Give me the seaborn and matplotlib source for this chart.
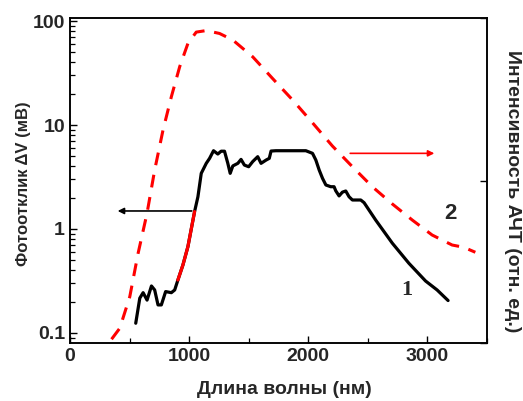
import matplotlib
matplotlib.use("Agg")
import matplotlib.pyplot as plt
from matplotlib.ticker import FixedLocator, NullFormatter
import seaborn as sns
import numpy as np
import pandas as pd

# Curve 1: photoresponse (mV)
x1 = [552, 586, 614, 647, 684, 711, 739, 767, 803, 851, 879, 906, 948, 990, 1027, 1046,
      1074, 1102, 1144, 1172, 1205, 1241, 1269, 1297, 1325, 1345, 1367, 1409, 1436, 1464,
      1500, 1534, 1576, 1604, 1646, 1673, 1688, 1729, 1980, 2036, 2064, 2092, 2120, 2148,
      2189, 2217, 2231, 2259, 2287, 2315, 2343, 2371, 2399, 2441, 2469, 2566, 2706, 2845,
      2985, 3082, 3174]
y1 = [0.124, 0.216, 0.244, 0.207, 0.283, 0.259, 0.186, 0.186, 0.250, 0.244, 0.259, 0.323,
      0.45, 0.676, 1.13, 1.47, 2.04, 3.43, 4.28, 4.78, 5.66, 5.26, 5.6, 5.6, 4.28, 3.43,
      4.04, 4.28, 4.67, 4.12, 3.97, 4.45, 4.96, 4.28, 4.6, 4.78, 5.62, 5.66, 5.66, 5.34,
      4.6, 3.69, 3.07, 2.65, 2.55, 2.55, 2.33, 2.08, 2.26, 2.32, 2.04, 1.9, 1.9, 1.9, 1.79,
      1.22, 0.73, 0.468, 0.316, 0.259, 0.205]
red_from, red_to = 906, 1046

# Curve 2: black-body intensity, arb. units
x2 = [349, 418, 502, 572, 647, 711, 781, 851, 921, 990, 1060, 1144, 1255, 1367, 1534,
      1701, 1869, 2036, 2203, 2371, 2538, 2706, 2873, 3040, 3208, 3305, 3403]
y2 = [0.087, 0.111, 0.223, 0.584, 1.42, 3.69, 8.94, 18.7, 36.4, 60.9, 78.3, 81, 76, 65.7,
      45.3, 28, 17.4, 10.5, 6.28, 3.97, 2.55, 1.74, 1.22, 0.875, 0.701, 0.667, 0.597]

xticks = [0, 1000, 2000, 3000]
xminor = [500, 1500, 2500, 3500]
yticks = [0.1, 1, 10, 100]
ytick_labels = ["0.1", "1", "10", "100"]

sns.set_theme(style="ticks")
plt.rcParams['font.family'] = ['Liberation Sans', 'DejaVu Sans']

fig = plt.figure(figsize=(5.23, 4.01), dpi=100)
ax = fig.add_axes([0.1338, 0.1446, 0.7972, 0.8105])

df1 = pd.DataFrame({"x": x1, "y": y1})
df2 = pd.DataFrame({"x": x2, "y": y2})
dfr = df1[(df1.x >= red_from) & (df1.x <= red_to)]

sns.lineplot(data=df2, x="x", y="y", ax=ax, color="#ff0000", lw=2.2,
             estimator=None, sort=False)
ax.lines[-1].set_dashes((4.2, 3.2))
sns.lineplot(data=df1, x="x", y="y", ax=ax, color="black", lw=2.3,
             estimator=None, sort=False)
sns.lineplot(data=dfr, x="x", y="y", ax=ax, color="#ff0000", lw=2.3,
             estimator=None, sort=False)

ax.set_yscale("log")
ax.set_xlim(0, 3500)
ax.set_ylim(0.08, 107)
ax.set_xticks(xticks)
ax.set_yticks(yticks)
ax.set_yticklabels(ytick_labels)
yminor = [m * d for d in yticks[:-1] for m in range(2, 10)] + [0.09]
ax.xaxis.set_minor_locator(FixedLocator(xminor))
ax.yaxis.set_minor_locator(FixedLocator(yminor))
ax.xaxis.set_minor_formatter(NullFormatter())
ax.yaxis.set_minor_formatter(NullFormatter())
ax.tick_params(which="both", direction="in", labelsize=14, top=False, right=False,
               left=True, bottom=True, color="black")
ax.tick_params(which="major", length=5, width=1)
ax.tick_params(which="minor", length=3.5, width=0.9)
for t in ax.xaxis.get_minor_ticks() + ax.yaxis.get_minor_ticks():
    t.tick1line.set_visible(True)
for t in ax.get_xticklabels() + ax.get_yticklabels():
    t.set_fontweight("bold")
for s in ax.spines.values():
    s.set_linewidth(1.2)
    s.set_color("black")

ax.set_xlabel("Длина волны (нм)", fontsize=14, fontweight="bold")
ax.xaxis.set_label_coords((284 - 70) / 417, (343 - 381) / 325)
ax.set_ylabel("Фотоотклик ΔV (мВ)", fontsize=12, fontweight="bold")
ax.yaxis.set_label_coords((31 - 70) / 417, 0.49)

ax2 = ax.twinx()
ax2.set_ylim(0, 1)
ax2.set_yticks([0, 0.5, 1])
ax2.set_yticklabels([])
ax2.tick_params(direction="in", length=5, width=1, color="black")
for s in ax2.spines.values():
    s.set_linewidth(1.2)
fig.text(512 / 523, 1 - 191 / 401, "Интенсивность АЧТ (отн. ед.)", fontsize=14,
         fontweight="bold", rotation=270, ha="center", va="center")

# arrows
ax.annotate("", xy=(377, 1.49), xytext=(1046, 1.49),
            arrowprops=dict(arrowstyle="-|>", color="black", lw=1.2, mutation_scale=9))
ax.annotate("", xy=(3082, 5.34), xytext=(2329, 5.34),
            arrowprops=dict(arrowstyle="-|>", color="#ff0000", lw=1.2, mutation_scale=9))

ax.text(3194, 1.42, "2", fontsize=16, fontweight="bold", ha="center", va="center")
ax.text(2831, 0.259, "1", fontsize=16, fontweight="bold", ha="center", va="center",
        family=["Liberation Serif", "DejaVu Serif"])

ax.set_zorder(2)
ax.patch.set_visible(False)

fig.savefig("out.png", dpi=100)
